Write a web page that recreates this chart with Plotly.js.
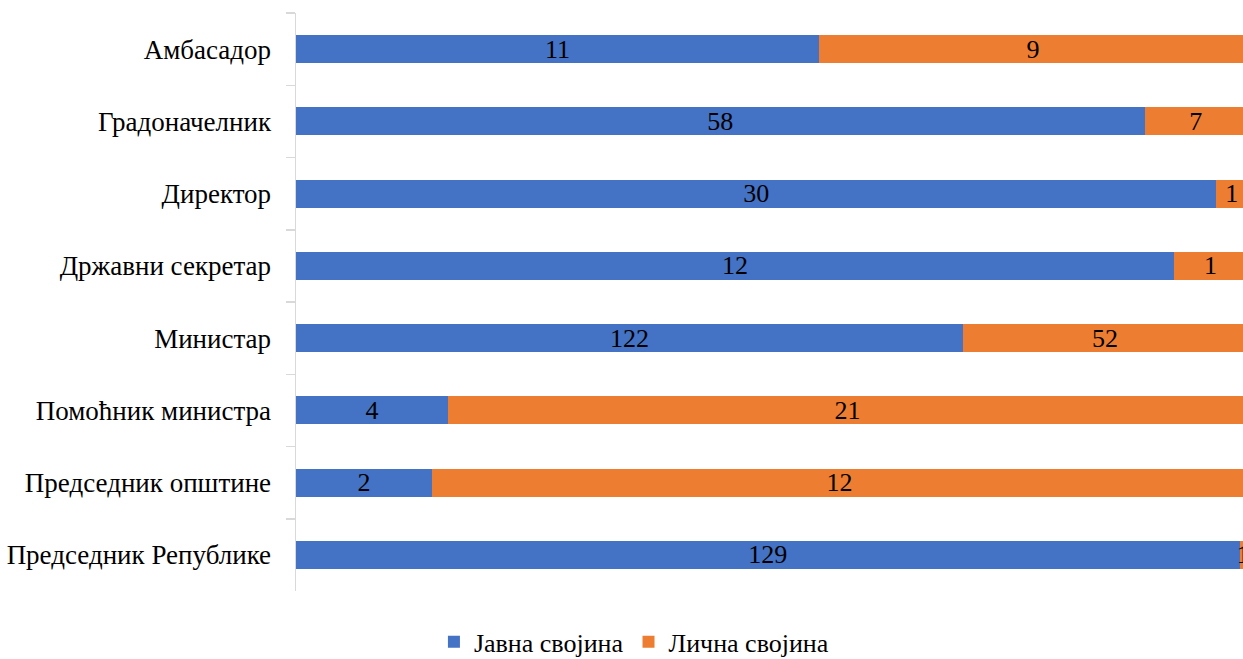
<!DOCTYPE html>
<html>
<head>
<meta charset="utf-8">
<script src="https://cdn.plot.ly/plotly-3.0.1.min.js"></script>
<style>html,body{margin:0;padding:0;background:#fff;}#chart{width:1243px;height:659px;}</style>
</head>
<body>
<div id="chart"></div>
<script>
const categories = ["Амбасадор", "Градоначелник", "Директор", "Државни секретар", "Министар", "Помоћник министра", "Председник општине", "Председник Републике"];
const publicOwnership = [11, 58, 30, 12, 122, 4, 2, 129];
const personalOwnership = [9, 7, 1, 1, 52, 21, 12, 1];
const seriesNames = ["Јавна својина", "Лична својина"];

const font = {family: "Liberation Serif, Times New Roman, serif", size: 26, color: "#000"};
const tickFont = {family: "Liberation Serif, Times New Roman, serif", size: 27, color: "#000"};
const labelFont = {family: "Liberation Serif, Times New Roman, serif", size: 26, color: "#000"};

const common = {
  type: "bar", orientation: "h", y: categories,
  textposition: "inside", insidetextanchor: "middle", constraintext: "none", textangle: 0,
  texttemplate: "%{text}", textfont: labelFont, insidetextfont: labelFont,
  hoverinfo: "skip"
};

const data = [
  Object.assign({}, common, {name: seriesNames[0], x: publicOwnership, text: publicOwnership, marker: {color: "#4472C4", line: {width: 0}}}),
  Object.assign({}, common, {name: seriesNames[1], x: personalOwnership, text: personalOwnership, marker: {color: "#ED7D31", line: {width: 0}}})
];

const layout = {
  width: 1243, height: 659,
  margin: {l: 296, r: 0, t: 13, b: 68},
  barmode: "stack", barnorm: "fraction", bargap: 0.61,
  font: font,
  paper_bgcolor: "#fff", plot_bgcolor: "#fff",
  xaxis: {range: [0, 0.9958], visible: false, fixedrange: true},
  yaxis: {
    autorange: "reversed", type: "category",
    showline: true, linecolor: "#d9d9d9", linewidth: 1.5,
    ticks: "outside", tickson: "boundaries", ticklen: 9, tickcolor: "#d9d9d9", tickwidth: 1.5,
    ticklabelstandoff: 18,
    tickfont: tickFont, showgrid: false, zeroline: false
  },
  showlegend: true,
  legend: {
    orientation: "h", xref: "container", yref: "container",
    x: 0.51, xanchor: "center", y: 0.026, yanchor: "middle",
    font: font, itemwidth: 30, traceorder: "normal"
  }
};

Plotly.newPlot("chart", data, layout, {staticPlot: true});
</script>
</body>
</html>
